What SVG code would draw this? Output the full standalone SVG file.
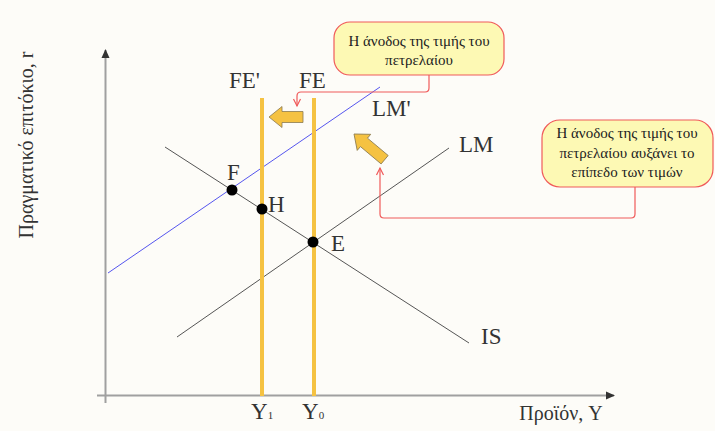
<svg xmlns="http://www.w3.org/2000/svg" width="715" height="431" viewBox="0 0 715 431">
<style>
.t{font-family:"Liberation Serif","DejaVu Serif",serif;fill:#333;}
.lbl{font-size:23px;}
.c{font-family:"Liberation Serif","DejaVu Serif",serif;font-size:15px;fill:#222;text-anchor:middle;}
.ax{stroke:#a0a0a0;stroke-width:2;fill:none;}
.crv{stroke:#555;stroke-width:1;fill:none;}
.fe{stroke:#f5c242;stroke-width:4;}
.dot{fill:#000;}
.box{fill:#fdf9b4;stroke:#f05a5a;stroke-width:1.2;}
.con{stroke:#f05a5a;stroke-width:1.2;fill:none;}
.blk{fill:#f5c242;stroke:#8a7a50;stroke-width:0.8;}
</style>
<defs>
<marker id="ah" markerWidth="10" markerHeight="10" refX="8" refY="5" orient="auto" markerUnits="userSpaceOnUse">
<path d="M0,1 L9,5 L0,9 Z" fill="#333"/>
</marker>
<marker id="ra" markerWidth="10" markerHeight="10" refX="8" refY="5" orient="auto" markerUnits="userSpaceOnUse">
<path d="M1,1.5 L8,5 L1,8.5" fill="none" stroke="#f05a5a" stroke-width="1.2"/>
</marker>
</defs>
<rect width="715" height="431" fill="#fdfcf8"/>
<g id="axes">
<line class="ax" x1="105.5" y1="403" x2="105.5" y2="50" marker-end="url(#ah)"/>
<line class="ax" x1="97" y1="395.5" x2="614" y2="395.5" marker-end="url(#ah)"/>
<text class="t" font-size="20" transform="translate(33,145) rotate(-90)" text-anchor="middle">Πραγματικό επιτόκιο, r</text>
<text class="t" font-size="20" x="561" y="420" text-anchor="middle">Προϊόν, Y</text>
</g>
<g id="curves">
<line class="crv" x1="165" y1="147" x2="469" y2="343"/>
<line class="crv" x1="177" y1="337" x2="449" y2="148"/>
<line x1="108" y1="273" x2="380" y2="87" stroke="#5555ee" stroke-width="1"/>
<line class="fe" x1="262" y1="98" x2="262" y2="396"/>
<line class="fe" x1="314" y1="98" x2="314" y2="396"/>
</g>
<g id="labels">
<text class="t lbl" x="229" y="88">FE'</text>
<text class="t lbl" x="299" y="88">FE</text>
<text class="t lbl" x="372" y="116">LM'</text>
<text class="t lbl" x="459" y="152">LM</text>
<text class="t lbl" x="481" y="344">IS</text>
<text class="t lbl" x="227" y="180">F</text>
<text class="t lbl" x="268" y="212">H</text>
<text class="t lbl" x="331" y="251">E</text>
<text class="t" x="251" y="419" font-size="23">Y<tspan font-size="11">1</tspan></text>
<text class="t" x="302" y="419" font-size="23">Y<tspan font-size="11">0</tspan></text>
</g>
<g id="points">
<circle class="dot" cx="232" cy="190" r="5.5"/>
<circle class="dot" cx="262" cy="209" r="5.5"/>
<circle class="dot" cx="313" cy="242" r="5.5"/>
</g>
<g id="arrows">
<path class="blk" d="M269,117 L282,106.5 L282,111.5 L303,111.5 L303,122.5 L282,122.5 L282,127.5 Z"/>
<path class="blk" transform="translate(354,134) rotate(40)" d="M0,0 L13,-10.5 L13,-5.5 L40,-5.5 L40,5.5 L13,5.5 L13,10.5 Z"/>
</g>
<g id="connectors">
<path class="con" d="M429,75 V88 Q429,92 425,92 H301 Q297,92 297,96 V106" marker-end="url(#ra)"/>
<path class="con" d="M635,187 V214 Q635,218 631,218 H384 Q380,218 380,214 V168" marker-end="url(#ra)"/>
</g>
<g id="callout1">
<rect class="box" x="334" y="22" width="170" height="53" rx="16"/>
<text class="c" x="419" y="46">Η άνοδος της τιμής του</text>
<text class="c" x="419" y="65">πετρελαίου</text>
</g>
<g id="callout2">
<rect class="box" x="542" y="120" width="171" height="67" rx="18"/>
<text class="c" x="627" y="138">Η άνοδος της τιμής του</text>
<text class="c" x="627" y="158">πετρελαίου αυξάνει το</text>
<text class="c" x="627" y="177">επίπεδο των τιμών</text>
</g>
</svg>
